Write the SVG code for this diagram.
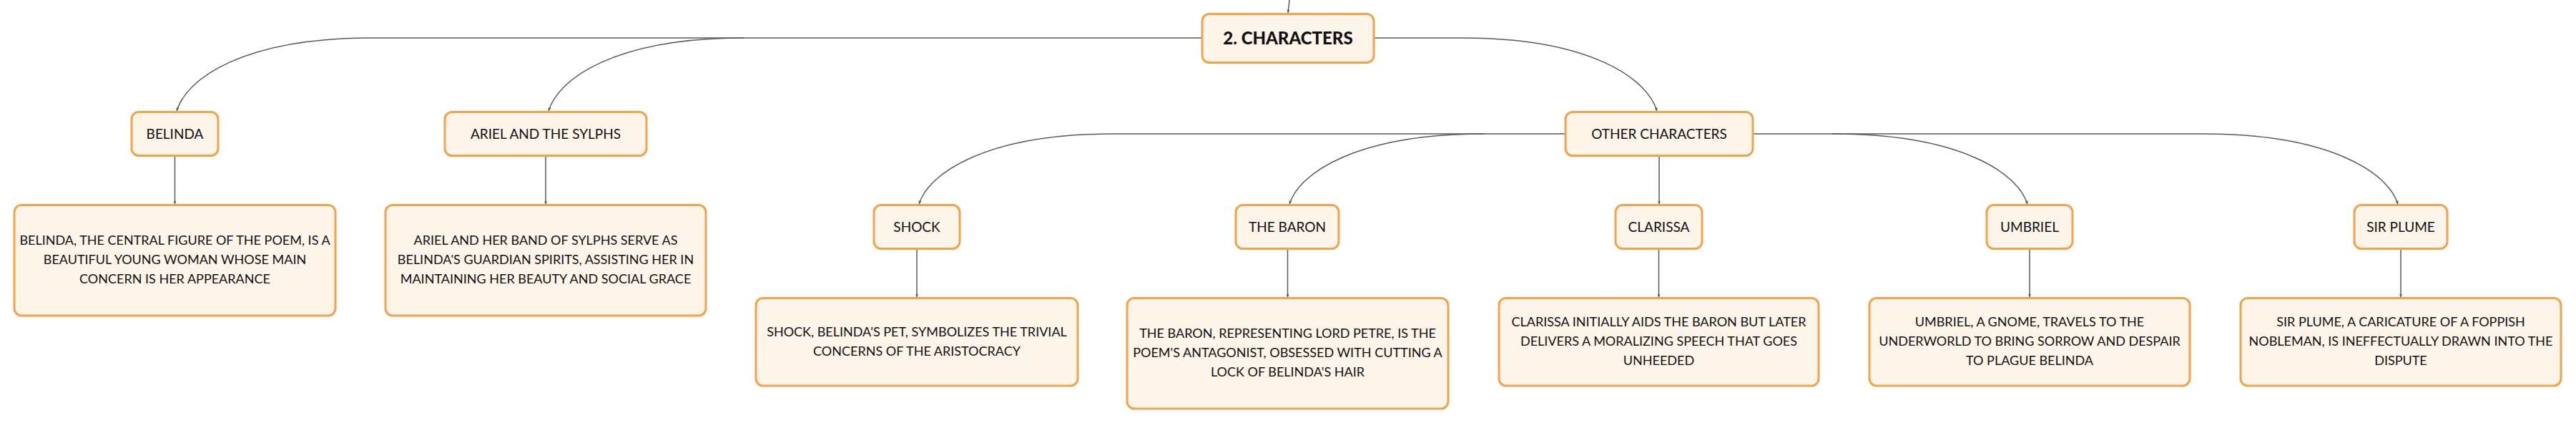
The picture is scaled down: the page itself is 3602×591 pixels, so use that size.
<svg xmlns="http://www.w3.org/2000/svg" width="3602" height="591" viewBox="0 0 3602 591">
<style>
.box{fill:#fdf4ea;stroke:#f3a34b;stroke-width:3}
.t{font-family:Lato,"Noto Sans","Liberation Sans",sans-serif;font-size:19px;fill:#111;text-anchor:middle}
.d{font-family:Lato,"Noto Sans","Liberation Sans",sans-serif;font-size:18px;fill:#111;text-anchor:middle}
.r{font-family:Lato,"Noto Sans","Liberation Sans",sans-serif;font-size:24px;font-weight:900;fill:#111;text-anchor:middle}
.c{fill:none;stroke:#5a5a5a;stroke-width:1.5}
</style>
<defs>
<marker id="a" markerUnits="userSpaceOnUse" markerWidth="6" markerHeight="6" viewBox="0 0 6 6" refX="5" refY="3" orient="auto">
<path d="M0,1 L5,3 L0,5 Z" fill="#5a5a5a"/>
</marker>
</defs>
<g id="connectors">
<path class="c" marker-end="url(#a)" d="M1803 0 L1801 18.5"/>
<path class="c" marker-end="url(#a)" d="M1681 53 H520 C340 53 260 110 247 155.5"/>
<path class="c" marker-end="url(#a)" d="M1040 53 C860 53 780 110 767 155.5"/>
<path class="c" marker-end="url(#a)" d="M1921 53 H2044 C2224 53 2304 110 2317 155.5"/>
<path class="c" marker-end="url(#a)" d="M2189 187 H1558 C1378 187 1298 242 1285 285.5"/>
<path class="c" marker-end="url(#a)" d="M2076 187 C1896 187 1816 242 1803 285.5"/>
<path class="c" marker-end="url(#a)" d="M2320 218 V285.5"/>
<path class="c" marker-end="url(#a)" d="M2451 187 H3080 C3260 187 3340 242 3353 285.5"/>
<path class="c" marker-end="url(#a)" d="M2562 187 C2742 187 2822 242 2835 285.5"/>
<path class="c" marker-end="url(#a)" d="M244.5 218 V285.5"/>
<path class="c" marker-end="url(#a)" d="M763 218 V285.5"/>
<path class="c" marker-end="url(#a)" d="M1282 348 V415.5"/>
<path class="c" marker-end="url(#a)" d="M1800.5 348 V415.5"/>
<path class="c" marker-end="url(#a)" d="M2319.5 348 V415.5"/>
<path class="c" marker-end="url(#a)" d="M2838 348 V415.5"/>
<path class="c" marker-end="url(#a)" d="M3357 348 V415.5"/>
</g>
<g id="root">
<rect class="box" x="1681" y="19.5" width="240" height="68" rx="10"/>
<text class="r" x="1801" y="62">2. CHARACTERS</text>
</g>
<g id="belinda">
<rect class="box" x="184" y="156.5" width="121" height="61" rx="10"/>
<text class="t" x="244.5" y="194">BELINDA</text>
</g>
<g id="belinda-desc">
<rect class="box" x="20" y="286.5" width="449" height="154.5" rx="10"/>
<text class="d" x="244.5" y="341.5">BELINDA, THE CENTRAL FIGURE OF THE POEM, IS A</text>
<text class="d" x="244.5" y="368.5">BEAUTIFUL YOUNG WOMAN WHOSE MAIN</text>
<text class="d" x="244.5" y="395.5">CONCERN IS HER APPEARANCE</text>
</g>
<g id="ariel">
<rect class="box" x="622" y="156.5" width="282" height="61" rx="10"/>
<text class="t" x="763" y="194">ARIEL AND THE SYLPHS</text>
</g>
<g id="ariel-desc">
<rect class="box" x="539" y="286.5" width="448" height="154.5" rx="10"/>
<text class="d" x="763" y="341.5">ARIEL AND HER BAND OF SYLPHS SERVE AS</text>
<text class="d" x="763" y="368.5">BELINDA'S GUARDIAN SPIRITS, ASSISTING HER IN</text>
<text class="d" x="763" y="395.5">MAINTAINING HER BEAUTY AND SOCIAL GRACE</text>
</g>
<g id="other">
<rect class="box" x="2189" y="156.5" width="262" height="61" rx="10"/>
<text class="t" x="2320" y="194">OTHER CHARACTERS</text>
</g>
<g id="shock">
<rect class="box" x="1222" y="286.5" width="120" height="61" rx="10"/>
<text class="t" x="1282" y="324">SHOCK</text>
</g>
<g id="shock-desc">
<rect class="box" x="1057" y="416.5" width="450" height="122.5" rx="10"/>
<text class="d" x="1282" y="469.5">SHOCK, BELINDA'S PET, SYMBOLIZES THE TRIVIAL</text>
<text class="d" x="1282" y="497">CONCERNS OF THE ARISTOCRACY</text>
</g>
<g id="baron">
<rect class="box" x="1728" y="286.5" width="144" height="61" rx="10"/>
<text class="t" x="1800" y="324">THE BARON</text>
</g>
<g id="baron-desc">
<rect class="box" x="1576" y="416.5" width="449" height="154.5" rx="10"/>
<text class="d" x="1800.5" y="472">THE BARON, REPRESENTING LORD PETRE, IS THE</text>
<text class="d" x="1800.5" y="499">POEM'S ANTAGONIST, OBSESSED WITH CUTTING A</text>
<text class="d" x="1800.5" y="526">LOCK OF BELINDA'S HAIR</text>
</g>
<g id="clarissa">
<rect class="box" x="2259" y="286.5" width="121" height="61" rx="10"/>
<text class="t" x="2319.5" y="324">CLARISSA</text>
</g>
<g id="clarissa-desc">
<rect class="box" x="2096" y="416.5" width="447" height="122.5" rx="10"/>
<text class="d" x="2319.5" y="455.5">CLARISSA INITIALLY AIDS THE BARON BUT LATER</text>
<text class="d" x="2319.5" y="482.5">DELIVERS A MORALIZING SPEECH THAT GOES</text>
<text class="d" x="2319.5" y="509.5">UNHEEDED</text>
</g>
<g id="umbriel">
<rect class="box" x="2778" y="286.5" width="120" height="61" rx="10"/>
<text class="t" x="2838" y="324">UMBRIEL</text>
</g>
<g id="umbriel-desc">
<rect class="box" x="2614" y="416.5" width="448" height="122.5" rx="10"/>
<text class="d" x="2838" y="455.5">UMBRIEL, A GNOME, TRAVELS TO THE</text>
<text class="d" x="2838" y="482.5">UNDERWORLD TO BRING SORROW AND DESPAIR</text>
<text class="d" x="2838" y="509.5">TO PLAGUE BELINDA</text>
</g>
<g id="sirplume">
<rect class="box" x="3292" y="286.5" width="130" height="61" rx="10"/>
<text class="t" x="3357" y="324">SIR PLUME</text>
</g>
<g id="sirplume-desc">
<rect class="box" x="3133" y="416.5" width="448" height="122.5" rx="10"/>
<text class="d" x="3357" y="455.5">SIR PLUME, A CARICATURE OF A FOPPISH</text>
<text class="d" x="3357" y="482.5">NOBLEMAN, IS INEFFECTUALLY DRAWN INTO THE</text>
<text class="d" x="3357" y="509.5">DISPUTE</text>
</g>
</svg>
